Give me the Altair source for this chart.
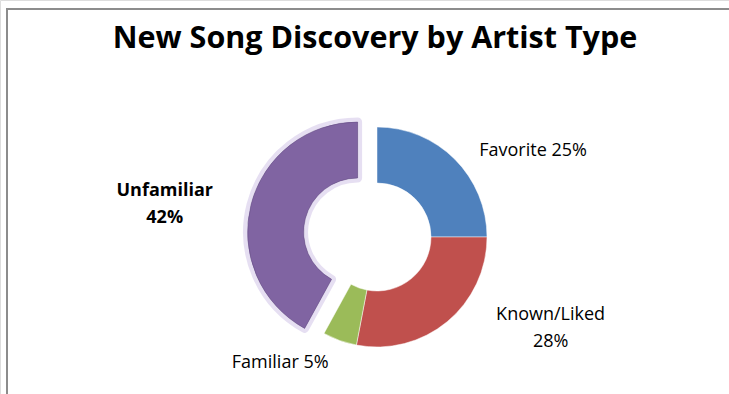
import altair as alt
import pandas as pd

categories = ["Favorite", "Known/Liked", "Familiar", "Unfamiliar"]
values = [25, 28, 5, 42]
label_lines = ["Favorite 25%", "Known/Liked\n28%", "Familiar 5%", "Unfamiliar\n42%"]
colors = ["#4F81BD", "#C0504D", "#9BBB59", "#8064A2"]
title_text = "New Song Discovery by Artist Type"

df = pd.DataFrame({
    "category": categories,
    "value": values,
    "label": label_lines,
    "order": list(range(len(categories))),
})

W, H = 729, 394
CX, CY = 377, 237
R_OUT, R_IN = 110, 54
EXPLODE_DX, EXPLODE_DY = -19.4, -5.0
FONT = "Open Sans"

color_scale = alt.Scale(domain=categories, range=colors)
theta_scale = alt.Scale(domain=[0, 100])

base = alt.Chart(df).transform_window(
    cum="sum(value)", sort=[alt.SortField("order")], frame=[None, 0]
).transform_calculate(
    start="datum.cum - datum.value",
    mid="datum.cum - datum.value / 2",
)

def arcs(filter_expr, dx=0, dy=0, **mark_kw):
    return base.transform_filter(filter_expr).mark_arc(
        outerRadius=R_OUT, innerRadius=R_IN, **mark_kw
    ).encode(
        theta=alt.Theta("start:Q", scale=theta_scale),
        theta2="cum:Q",
        color=alt.Color("category:N", scale=color_scale, legend=None),
        x=alt.value(CX + dx),
        y=alt.value(CY + dy),
    )

main = arcs("datum.category != 'Unfamiliar'", stroke="#ffffff", strokeWidth=0.8, strokeOpacity=0.6)
glow = arcs("datum.category == 'Unfamiliar'", EXPLODE_DX, EXPLODE_DY,
            stroke="#c8b9e2", strokeWidth=9, strokeOpacity=0.45, strokeJoin="round")
purple = arcs("datum.category == 'Unfamiliar'", EXPLODE_DX, EXPLODE_DY,
              stroke="#5f4a7d", strokeWidth=0.8, strokeOpacity=0.6)

def label(cat, dx, dy, bold=False):
    return base.transform_filter(f"datum.category == '{cat}'").mark_text(
        radius=150, dx=dx, dy=dy, font=FONT, fontSize=18,
        fontWeight="bold" if bold else "normal", color="#000000",
        lineBreak="\n", lineHeight=27, align="center", baseline="middle",
    ).encode(
        theta=alt.Theta("mid:Q", scale=theta_scale),
        text="label:N",
        x=alt.value(CX),
        y=alt.value(CY),
    )

labels = (
    label("Favorite", 50, 20)
    + label("Known/Liked", 78, -38)
    + label("Familiar", -46, -15)
    + label("Unfamiliar", -67, -9, bold=True)
)

title = alt.Chart(pd.DataFrame({"t": [title_text]})).mark_text(
    font=FONT, fontSize=30.5, fontWeight="bold", color="#000000",
    align="center", baseline="alphabetic",
).encode(text="t:N", x=alt.value(375), y=alt.value(48))

frame_top = alt.Chart(pd.DataFrame({"a": [0]})).mark_rule(
    color="#8c8c8c", strokeWidth=2
).encode(x=alt.value(6), x2=alt.value(W), y=alt.value(9))
frame_left = alt.Chart(pd.DataFrame({"a": [0]})).mark_rule(
    color="#8c8c8c", strokeWidth=2
).encode(x=alt.value(7), y=alt.value(8), y2=alt.value(H))

chart = alt.layer(
    frame_top, frame_left, glow, main, purple, labels, title
).properties(
    width=W, height=H, autosize=alt.AutoSizeParams(type="none"),
    padding={"left": 0, "top": 0, "right": 0, "bottom": 0},
).configure_view(stroke=None).configure(background="#ffffff")

chart.save("out.html", embed_options={"renderer": "svg", "actions": False})
